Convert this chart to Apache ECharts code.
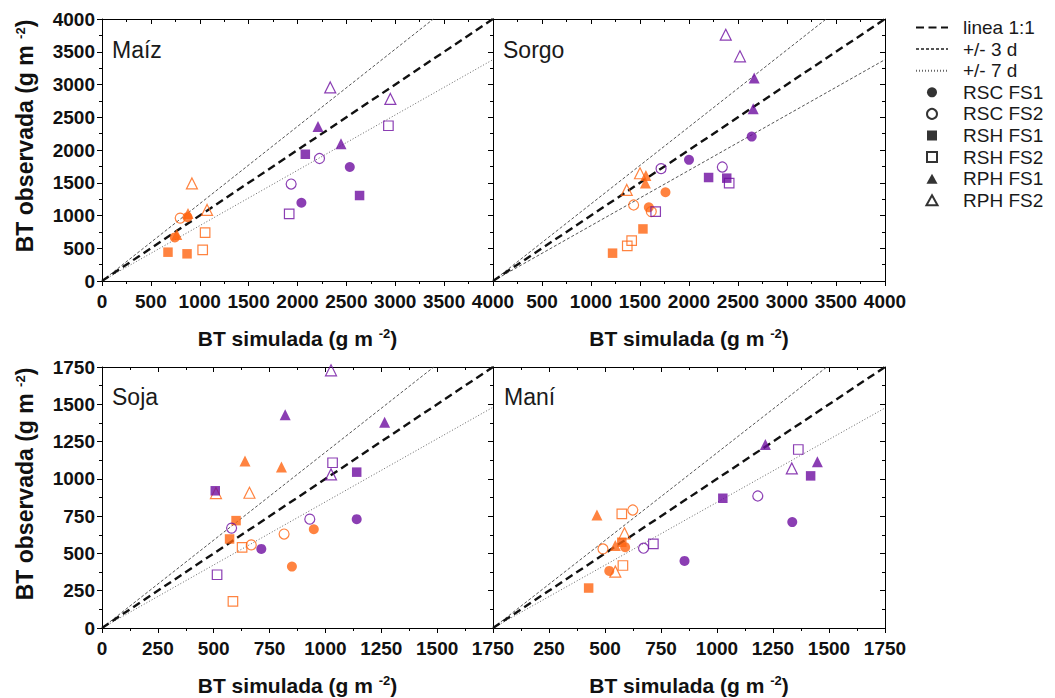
<!DOCTYPE html>
<html><head><meta charset="utf-8">
<script src="https://cdn.jsdelivr.net/npm/echarts@6/dist/echarts.min.js"></script>
<style>html,body{margin:0;padding:0;background:#fff}#c{width:1055px;height:698px}</style>
</head><body><div id="c"></div>
<script>
// ---------- DATA ----------
const TYPES = ['RSC FS1','RSC FS2','RSH FS1','RSH FS2','RPH FS1','RPH FS2'];
const PANEL_NAMES = ['Maíz','Sorgo','Soja','Maní'];
const TOP_MAX = 4000, TOP_STEP = 500;
const BOT_MAX = 1750, BOT_STEP = 250;

// [BT simulada, BT observada, tipo]
const maizOrange = [
  [745,665,'RSC FS1'],[875,975,'RSC FS1'],
  [800,960,'RSC FS2'],
  [675,440,'RSH FS1'],[870,415,'RSH FS1'],
  [1055,740,'RSH FS2'],[1030,475,'RSH FS2'],
  [880,1030,'RPH FS1'],[765,710,'RPH FS1'],
  [920,1490,'RPH FS2'],[1075,1085,'RPH FS2']
];
const maizPurple = [
  [2040,1195,'RSC FS1'],[2535,1740,'RSC FS1'],
  [1935,1480,'RSC FS2'],[2225,1870,'RSC FS2'],
  [2080,1935,'RSH FS1'],[2635,1305,'RSH FS1'],
  [1915,1025,'RSH FS2'],[2930,2370,'RSH FS2'],
  [2210,2360,'RPH FS1'],[2445,2095,'RPH FS1'],
  [2335,2955,'RPH FS2'],[2950,2780,'RPH FS2']
];
const sorgoOrange = [
  [1760,1355,'RSC FS1'],[1590,1125,'RSC FS1'],
  [1435,1160,'RSC FS2'],[1615,1060,'RSC FS2'],
  [1530,795,'RSH FS1'],[1220,425,'RSH FS1'],
  [1415,615,'RSH FS2'],[1370,535,'RSH FS2'],
  [1560,1610,'RPH FS1'],[1555,1495,'RPH FS1'],
  [1500,1645,'RPH FS2'],[1365,1390,'RPH FS2']
];
const sorgoPurple = [
  [2640,2205,'RSC FS1'],[2000,1850,'RSC FS1'],
  [1715,1715,'RSC FS2'],[2340,1740,'RSC FS2'],
  [2200,1580,'RSH FS1'],[2385,1570,'RSH FS1'],
  [2410,1495,'RSH FS2'],[1660,1060,'RSH FS2'],
  [2665,3100,'RPH FS1'],[2655,2630,'RPH FS1'],
  [2375,3760,'RPH FS2'],[2520,3430,'RPH FS2']
];
const sojaOrange = [
  [948,662,'RSC FS1'],[850,412,'RSC FS1'],
  [668,557,'RSC FS2'],[815,630,'RSC FS2'],
  [600,720,'RSH FS1'],[571,597,'RSH FS1'],
  [627,540,'RSH FS2'],[586,178,'RSH FS2'],
  [640,1120,'RPH FS1'],[803,1080,'RPH FS1'],
  [660,907,'RPH FS2'],[510,905,'RPH FS2']
];
const sojaPurple = [
  [1140,730,'RSC FS1'],[713,530,'RSC FS1'],
  [930,730,'RSC FS2'],[580,670,'RSC FS2'],
  [1140,1045,'RSH FS1'],[507,920,'RSH FS1'],
  [1032,1108,'RSH FS2'],[515,357,'RSH FS2'],
  [820,1430,'RPH FS1'],[1265,1380,'RPH FS1'],
  [1025,1728,'RPH FS2'],[1025,1030,'RPH FS2']
];
const maniOrange = [
  [590,542,'RSC FS1'],[519,383,'RSC FS1'],
  [624,791,'RSC FS2'],[491,530,'RSC FS2'],
  [575,575,'RSH FS1'],[427,268,'RSH FS1'],
  [575,765,'RSH FS2'],[580,419,'RSH FS2'],
  [464,758,'RPH FS1'],[546,553,'RPH FS1'],
  [587,635,'RPH FS2'],[546,378,'RPH FS2']
];
const maniPurple = [
  [1336,710,'RSC FS1'],[855,450,'RSC FS1'],
  [1182,885,'RSC FS2'],[672,535,'RSC FS2'],
  [1026,870,'RSH FS1'],[1418,1020,'RSH FS1'],
  [1363,1197,'RSH FS2'],[716,564,'RSH FS2'],
  [1216,1230,'RPH FS1'],[1448,1115,'RPH FS1'],
  [1334,1070,'RPH FS2']
];

// reference lines (end points)
const maizLine11 = [[0,0],[4000,4000]];
const maizUpper  = [[0,0],[3390,4000]];
const maizLower  = [[0,0],[4000,3380]];
const sorgoLine11 = [[0,0],[4000,4000]];
const sorgoUpper  = [[0,0],[3400,4000]];
const sorgoLower  = [[0,0],[4000,3380]];
const sojaLine11 = [[0,0],[1750,1750]];
const sojaUpper  = [[0,0],[1485,1750]];
const sojaLower  = [[0,0],[1750,1480]];
const maniLine11 = [[0,0],[1750,1750]];
const maniUpper  = [[0,0],[1490,1750]];
const maniLower  = [[0,0],[1750,1475]];

// ---------- STYLE / LAYOUT ----------
const ORANGE = '#FF6410', PURPLE = '#6E0EA0';
const FONT = '"Liberation Sans", Arial, sans-serif';
const GRIDS = [
  {left:102, top:19, width:391, height:262},
  {left:493, top:19, width:392, height:262},
  {left:102, top:367, width:391, height:261},
  {left:493, top:367, width:392, height:261}
];
const panels = [
  {max:TOP_MAX, step:TOP_STEP, o:maizOrange, p:maizPurple, l11:maizLine11, up:maizUpper, lo:maizLower, loName:'+/- 7 d'},
  {max:TOP_MAX, step:TOP_STEP, o:sorgoOrange, p:sorgoPurple, l11:sorgoLine11, up:sorgoUpper, lo:sorgoLower, loName:'+/- 3 d'},
  {max:BOT_MAX, step:BOT_STEP, o:sojaOrange, p:sojaPurple, l11:sojaLine11, up:sojaUpper, lo:sojaLower, loName:'+/- 7 d'},
  {max:BOT_MAX, step:BOT_STEP, o:maniOrange, p:maniPurple, l11:maniLine11, up:maniUpper, lo:maniLower, loName:'+/- 7 d'}
];
const LINE_STYLES = {
  'linea 1:1': {color:'#111', width:2.4, type:[8,4.5]},
  '+/- 3 d': {color:'#555', width:1, type:[3,2]},
  '+/- 7 d': {color:'#666', width:1, type:[1,2]}
};
function symbolOf(t){ return t.startsWith('RSC') ? 'circle' : t.startsWith('RSH') ? 'rect' : 'triangle'; }
function sizeOf(t){ return t.startsWith('RSC') ? 10 : t.startsWith('RSH') ? 9.5 : 11; }
function itemStyleOf(t, color){
  return t.endsWith('FS1') ? {color:color, borderWidth:0}
                           : {color:'rgba(255,255,255,0)', borderColor:color, borderWidth:1.2};
}
const LEGEND_ICONS = {
  'RSC FS1':'circle', 'RSC FS2':'circle',
  'RSH FS1':'path://M0,0L10,0L10,10L0,10Z', 'RSH FS2':'path://M0,0L10,0L10,10L0,10Z',
  'RPH FS1':'path://M5,0L10,9L0,9Z', 'RPH FS2':'path://M5,0L10,9L0,9Z'
};

const xAxis = [], yAxis = [], series = [];
function tick(inside){ return {show:true, inside:inside, length:5, lineStyle:{color:'#000', width:1}}; }
function minor(){ return {show:true, splitNumber:2, length:3, lineStyle:{color:'#000', width:1}}; }
function plain(v){ return String(v); }
panels.forEach((pn, i) => {
  const isRight = (i % 2) === 1;
  const base = () => ({type:'value', min:0, max:pn.max, interval:pn.step, gridIndex:i,
    splitLine:{show:false},
    axisLine:{show:true, onZero:false, lineStyle:{color:'#000', width:1}}});
  const lab = () => ({fontSize:19, fontWeight:'bold', color:'#111', fontFamily:FONT, formatter:plain});
  xAxis.push(Object.assign(base(), {position:'bottom', axisTick:tick(false), minorTick:minor(),
    axisLabel:Object.assign({show:true, margin:11, showMinLabel:!isRight}, lab())}));
  xAxis.push(Object.assign(base(), {position:'top', axisTick:tick(true), minorTick:minor(),
    axisLabel:{show:false}}));
  yAxis.push(Object.assign(base(), {position:'left', axisTick:tick(false), minorTick:minor(),
    axisLabel:Object.assign({show:!isRight, margin:7}, lab())}));
  yAxis.push(Object.assign(base(), {position:'right', axisTick:tick(true), minorTick:minor(),
    axisLabel:{show:false}}));

  const ax = {xAxisIndex:2*i, yAxisIndex:2*i};
  [['+/- 3 d', pn.up], [pn.loName, pn.lo], ['linea 1:1', pn.l11]].forEach(([nm, d]) => {
    series.push(Object.assign({type:'line', name:nm, data:d, symbol:'none', silent:true,
      lineStyle:LINE_STYLES[nm], itemStyle:{color:LINE_STYLES[nm].color}, z:2}, ax));
  });
  [[pn.o, ORANGE, 'naranja'], [pn.p, PURPLE, 'violeta']].forEach(([arr, col, tag]) => {
    TYPES.forEach(t => {
      const d = arr.filter(r => r[2] === t).map(r => [r[0], r[1]]);
      if (!d.length) return;
      series.push(Object.assign({type:'scatter', name:t + ' ' + tag, data:d,
        symbol:symbolOf(t), symbolSize:sizeOf(t), itemStyle:itemStyleOf(t, col), z:3, silent:true}, ax));
    });
  });
});
// legend-only series (black symbols)
TYPES.forEach(t => {
  series.push({type:'scatter', name:t, data:[], xAxisIndex:0, yAxisIndex:0,
    symbol:symbolOf(t), itemStyle:itemStyleOf(t, '#000')});
});

const graphic = [];
const labelPos = [[112,50],[503,50],[112,397],[504,397]];
PANEL_NAMES.forEach((n, i) => {
  graphic.push({type:'text', x:labelPos[i][0], y:labelPos[i][1], silent:true,
    style:{text:n, fontSize:23, fontFamily:FONT, fill:'#1a1a1a', align:'left', verticalAlign:'middle'}});
});
const rich = {s:{fontSize:13, fontWeight:'bold', fontFamily:FONT, fill:'#111', verticalAlign:'top', lineHeight:13}};
GRIDS.forEach((g, i) => {
  graphic.push({type:'text', x:g.left + g.width/2, y:(i < 2 ? 338 : 685), silent:true,
    style:{text:'BT simulada (g m {s|-2})', rich:rich, fontSize:21, fontWeight:'bold', fontFamily:FONT,
      fill:'#111', align:'center', verticalAlign:'middle', lineHeight:22}});
});
[[25,136],[25,484]].forEach(p => {
  graphic.push({type:'text', x:p[0], y:p[1], rotation:Math.PI/2, silent:true,
    style:{text:'BT observada (g m {s|-2})', rich:rich, fontSize:23, fontWeight:'bold', fontFamily:FONT,
      fill:'#111', align:'center', verticalAlign:'middle', lineHeight:23}});
});

const legendData = ['linea 1:1','+/- 3 d','+/- 7 d'].map(n => ({name:n, itemStyle:{opacity:0}}))
  .concat(TYPES.map(t => ({name:t, icon:LEGEND_ICONS[t]})));

const chart = echarts.init(document.getElementById('c'), null, {renderer:'svg'});
chart.setOption({
  animation:false,
  backgroundColor:'#fff',
  grid:GRIDS.map(g => Object.assign({show:false, containLabel:false}, g)),
  xAxis, yAxis, series, graphic,
  legend:{
    left:915, top:17, orient:'vertical', padding:0, itemGap:0.6,
    itemWidth:32, itemHeight:10, selectedMode:false, symbolKeepAspect:true,
    data:legendData,
    textStyle:{fontSize:19, fontFamily:FONT, color:'#1a1a1a', lineHeight:21, padding:[0,0,0,10]}
  }
});
</script></body></html>
